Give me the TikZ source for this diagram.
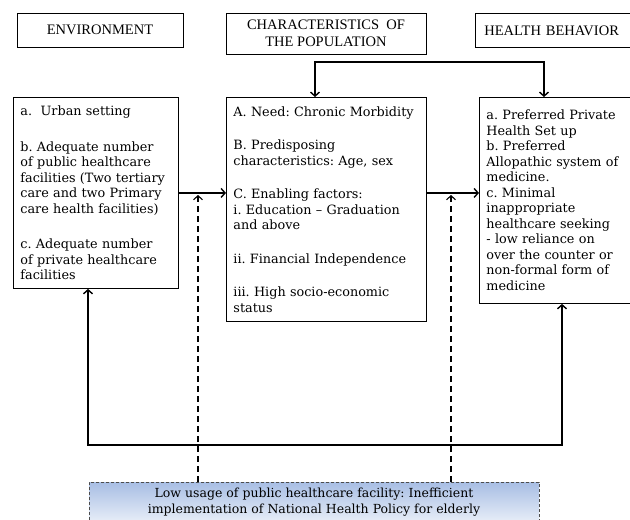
\documentclass[tikz,border=0pt]{standalone}
\usepackage{fontspec}
\setmainfont{DejaVu Serif}
\newfontfamily\headfont{Liberation Serif}
\usepackage{tikz}
\usetikzlibrary{arrows.meta}
\frenchspacing

\begin{document}
\begin{tikzpicture}[x=1pt,y=-1pt, >={Straight Barb[length=4pt,width=9pt]},
  hdr/.style={draw, line width=0.8pt, inner sep=0pt, align=center,
    font=\headfont\fontsize{14.5}{17}\selectfont},
  box/.style={draw, line width=0.9pt, anchor=north west, align=left,
    inner xsep=7pt, inner ysep=4pt, font=\fontsize{12.8}{15.5}\selectfont},
  link/.style={line width=1.4pt},
  dashlink/.style={line width=1.1pt, dash pattern=on 6pt off 4pt}]

\path[fill=white, use as bounding box] (0,0) rectangle (630,520);

% Headings over the three columns
\node[hdr, minimum width=166pt, minimum height=34pt] (henv) at (100,30) {ENVIRONMENT};
\node[hdr, minimum width=200pt, minimum height=41pt] (hpop) at (326,33.5) {CHARACTERISTICS\ \ OF\\THE POPULATION};
\node[hdr, anchor=north west, minimum height=34pt, text width=147pt, align=left, inner xsep=9pt] (hbeh) at (475,13) {HEALTH BEHAVIOR};

% The three boxes
\node[box, text width=151pt, minimum height=191pt] (envb) at (13,97) {a.\ \ Urban setting\\[20pt]
  b. Adequate number\\ of public healthcare\\ facilities (Two tertiary\\ care and two Primary\\ care health facilities)\\[20pt]
  c. Adequate number\\ of private healthcare\\ facilities};
\node[box, text width=186pt, minimum height=224pt] (mid) at (226,97) {A. Need: Chronic Morbidity\\[18pt]
  B. Predisposing\\ characteristics: Age, sex\\[18pt]
  C. Enabling factors:\\ i. Education -- Graduation\\ and above\\[18pt]
  ii. Financial Independence\\[18pt]
  iii. High socio-economic\\ status};
\node[box, text width=150pt, minimum height=206pt] (beh) at (479,97) {a. Preferred Private\\ Health Set up\\
  b. Preferred\\ Allopathic system of\\ medicine.\\
  c. Minimal\\ inappropriate\\ healthcare seeking\\ - low reliance on\\ over the counter or\\ non-formal form of\\ medicine};

% Policy box at the bottom
\node[draw=gray!60!black, densely dashed, line width=0.8pt, anchor=north,
  top color={rgb,255:red,168;green,190;blue,228}, bottom color={rgb,255:red,232;green,238;blue,248},
  minimum width=450pt, minimum height=40pt, align=center,
  font=\fontsize{12.5}{16}\selectfont] (low) at (314,482)
  {Low usage of public healthcare facility: Inefficient\\ implementation of National Health Policy for elderly};

% Arrows from box to box
\draw[link,->] (envb.east) -- (envb.east -| mid.west);
\draw[link,->] (envb.east -| mid.east) -- (envb.east -| beh.west);

% Loop over the top
\coordinate (tl) at (315,62);
\coordinate (tr) at (544,62);
\draw[link,<->] (tl |- mid.north) -- (tl) -- (tr) -- (tr |- beh.north);

% Loop under the boxes
\coordinate (bl) at (88,445);
\coordinate (br) at (562,445);
\draw[link,<->] (bl |- envb.south) -- (bl) -- (br) -- (br |- beh.south);

% Dashed arrows from the policy box
\coordinate (dl) at (198,195);
\coordinate (dr) at (451,195);
\draw[dashlink,->] (dl |- low.north) -- (dl);
\draw[dashlink,->] (dr |- low.north) -- (dr);

\end{tikzpicture}
\end{document}
